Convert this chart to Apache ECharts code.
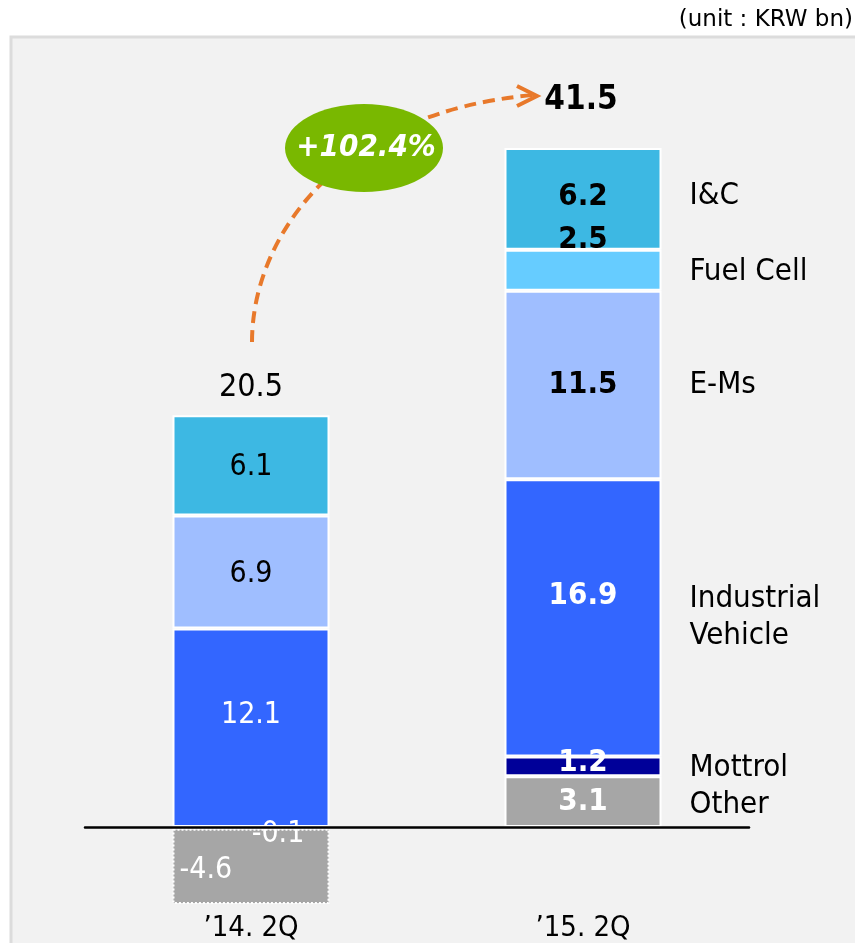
<!DOCTYPE html>
<html>
<head>
<meta charset="utf-8">
<script src="https://cdn.jsdelivr.net/npm/echarts@6/dist/echarts.min.js"></script>
<style>
  html, body { margin: 0; padding: 0; background: #ffffff; }
  #chart { width: 855px; height: 943px; }
</style>
</head>
<body>
<div id="chart"></div>
<script>
// Quarterly operating profit by business unit (KRW bn)
const categories = ['\u201914. 2Q', '\u201915. 2Q'];
const other = [-4.6, 3.1];
const mottrol = [-0.1, 1.2];
const industrialVehicle = [12.1, 16.9];
const eMs = [6.9, 11.5];
const fuelCell = [null, 2.5];
const iAndC = [6.1, 6.2];
const totals = [20.5, 41.5];
const growthText = '+102.4%';
const unitText = '(unit : KRW bn)';

// Segments from the bottom of the stack upward
const segments = [
  { name: 'Other', values: other },
  { name: 'Mottrol', values: mottrol },
  { name: 'Industrial\nVehicle', values: industrialVehicle },
  { name: 'E-Ms', values: eMs },
  { name: 'Fuel Cell', values: fuelCell },
  { name: 'I&C', values: iAndC }
];

// ---- styling ----
const FONT = '"DejaVu Sans Condensed", "DejaVu Sans", sans-serif';
const colors = {
  'Other': '#A6A6A6',
  'Mottrol': '#000099',
  'Industrial\nVehicle': '#3366FF',
  'E-Ms': '#9FBEFF',
  'Fuel Cell': '#66CCFF',
  'I&C': '#3DB8E3'
};
// label colour per segment: [left bar, right bar]
const labelColors = {
  'Other': ['#fff', '#fff'],
  'Mottrol': ['#fff', '#fff'],
  'Industrial\nVehicle': ['#fff', '#fff'],
  'E-Ms': ['#000', '#000'],
  'Fuel Cell': ['#000', '#000'],
  'I&C': ['#000', '#000']
};
const labelOffsets = {
  'Other': [[0, 4], [0, 0]],
  'Mottrol': [[27, 6], [0, -3]],
  'Industrial\nVehicle': [[0, -13], [0, -22]],
  'E-Ms': [[0, 2], [0, 0]],
  'Fuel Cell': [[0, 0], [0, -30]],
  'I&C': [[0, 2], [0, -2]]
};
const nameOffsets = {
  'Other': [0, 3],
  'Mottrol': [0, 2],
  'Industrial\nVehicle': [0, 0],
  'E-Ms': [0, 0],
  'Fuel Cell': [0, 2],
  'I&C': [0, -3]
};
const BAR_W = 157;

function itemFor(seg, i, v) {
  if (v === null || v === undefined) return null;
  const neg = v < 0;
  const right = i === 1;
  const label = {
    show: true,
    formatter: String(v),
    color: labelColors[seg.name][i],
    fontFamily: FONT,
    fontSize: right ? 31 : 30,
    fontWeight: right ? 'bold' : 'normal',
    position: 'inside',
    offset: labelOffsets[seg.name][i]
  };
  if (seg.name === 'Other' && neg) {
    label.position = 'insideLeft';
    label.distance = 7;
  }
  return {
    value: v,
    label: label,
    itemStyle: neg
      ? { borderColor: '#ffffff', borderWidth: 2, borderType: 'dotted' }
      : { borderColor: '#ffffff', borderWidth: 2 }
  };
}

const series = [];
// negative parts stack downward from zero in reverse order
segments.slice().reverse().forEach(seg => {
  series.push({
    type: 'bar', name: seg.name, stack: 'total', barWidth: BAR_W, barGap: '-100%',
    itemStyle: { color: colors[seg.name] },
    data: seg.values.map((v, i) => (v !== null && v < 0) ? itemFor(seg, i, v) : null)
  });
});
// positive parts stack upward from zero
segments.forEach(seg => {
  series.push({
    type: 'bar', name: seg.name, stack: 'total', barWidth: BAR_W, barGap: '-100%',
    itemStyle: { color: colors[seg.name] },
    data: seg.values.map((v, i) => (v !== null && v >= 0) ? itemFor(seg, i, v) : null)
  });
});
// segment names beside the latest-quarter bar
segments.forEach(seg => {
  series.push({
    type: 'bar', name: seg.name + ' name', stack: 'names', barWidth: BAR_W, barGap: '-100%',
    silent: true,
    itemStyle: { color: 'rgba(0,0,0,0)' },
    label: {
      show: true, position: 'right', distance: 28, offset: nameOffsets[seg.name],
      formatter: seg.name, color: '#000', fontFamily: FONT, fontSize: 31,
      align: 'left', lineHeight: 37
    },
    data: seg.values.map((v, i) => (i === 1 && v !== null && v >= 0) ? v : null)
  });
});

const chart = echarts.init(document.getElementById('chart'), null, { renderer: 'canvas' });

chart.setOption({
  animation: false,
  backgroundColor: '#ffffff',
  grid: { left: 85, right: 106, top: 89, bottom: 34 },
  xAxis: [
    {
      type: 'category', data: categories, z: 20,
      axisLine: { onZero: true, lineStyle: { color: '#000', width: 2.5 } },
      axisTick: { show: false }, axisLabel: { show: false }
    },
    {
      type: 'category', data: categories, position: 'bottom',
      axisLine: { show: false, onZero: false }, axisTick: { show: false },
      axisLabel: { color: '#000', fontFamily: FONT, fontSize: 29, margin: 5 }
    }
  ],
  yAxis: {
    type: 'value', min: -5, max: 45, show: false,
    splitLine: { show: false }
  },
  series: series
});

// Totals above each bar, positioned from the top of the positive stack
function positiveTop(i) {
  return segments.reduce((s, seg) => {
    const v = seg.values[i];
    return s + ((v !== null && v > 0) ? v : 0);
  }, 0);
}
const totalStyle = [
  { dy: -28, dx: 0, weight: 'normal', size: 32 },
  { dy: -48, dx: -2, weight: 'bold', size: 33 }
];
const totalTexts = totals.map((t, i) => {
  const p = chart.convertToPixel({ xAxisIndex: 0, yAxisIndex: 0 }, [i, positiveTop(i)]);
  const st = totalStyle[i];
  return {
    type: 'text', z: 110, x: p[0] + st.dx, y: p[1] + st.dy,
    style: {
      text: t.toFixed(1), fill: '#000', align: 'center', verticalAlign: 'middle',
      font: st.weight + ' ' + st.size + 'px ' + FONT
    }
  };
});

const ORANGE = '#E8792B';
chart.setOption({
  graphic: [
    // panel background
    {
      type: 'rect', z: -10, silent: true,
      shape: { x: 11, y: 37, width: 900, height: 950 },
      style: { fill: '#F2F2F2', stroke: '#DCDCDC', lineWidth: 3 }
    },
    {
      type: 'text', z: 110, x: 853, y: 20,
      style: {
        text: unitText, fill: '#000', align: 'right', verticalAlign: 'middle',
        font: '23px "DejaVu Sans", sans-serif'
      }
    },
    // growth arrow
    {
      type: 'bezierCurve', z: 100, silent: true,
      shape: { x1: 252, y1: 342, cpx1: 252, cpy1: 240, cpx2: 335, cpy2: 112, x2: 534, y2: 95 },
      style: { stroke: ORANGE, lineWidth: 4, lineDash: [12, 7], fill: null }
    },
    {
      type: 'polyline', z: 100, silent: true,
      shape: { points: [[517, 86], [537, 96], [517, 106]] },
      style: { stroke: ORANGE, lineWidth: 4, fill: null }
    },
    {
      type: 'ellipse', z: 101, silent: true,
      shape: { cx: 364, cy: 148, rx: 79, ry: 44 },
      style: { fill: '#79B800' }
    },
    {
      type: 'text', z: 102, x: 366, y: 148,
      style: {
        text: growthText, fill: '#fff', align: 'center', verticalAlign: 'middle',
        font: 'italic bold 31px ' + FONT
      }
    }
  ].concat(totalTexts)
});
</script>
</body>
</html>
